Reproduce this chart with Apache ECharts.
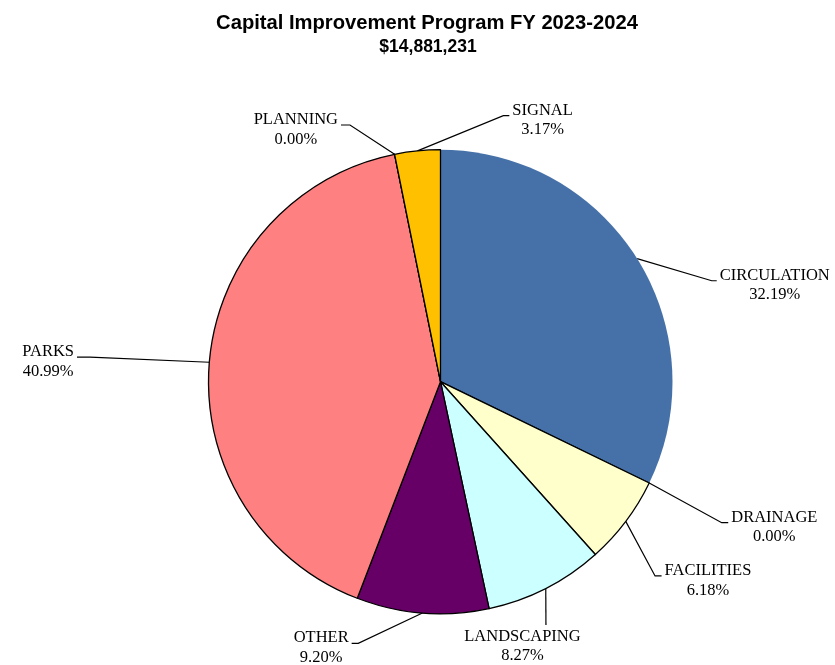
<!DOCTYPE html>
<html><head><meta charset="utf-8">
<script src="https://cdn.jsdelivr.net/npm/echarts@6/dist/echarts.min.js"></script>
<style>html,body{margin:0;padding:0;background:#fff}#c{width:835px;height:665px}</style>
</head><body><div id="c"></div>
<script>
// ---- data ----
const categories = ['CIRCULATION','DRAINAGE','FACILITIES','LANDSCAPING','OTHER','PARKS','PLANNING','SIGNAL'];
const percents = [32.19, 0.00, 6.18, 8.27, 9.20, 40.99, 0.00, 3.17];
const titleText = 'Capital Improvement Program FY 2023-2024';
const totalText = '$14,881,231';

// ---- styles / layout ----
const colors = ['#4571A8','#FFFFFF','#FFFFCC','#CCFFFF','#660066','#FF8080','#FFFFFF','#FFC000'];
// leader line: elbow offset from slice edge point, signed horizontal segment
const leader = [
  {ex:74.6, ey:22.2, h:5},
  {ex:72.5, ey:39.7, h:6.5},
  {ex:29.3, ey:54.6, h:6.5},
  {ex:0.2, ey:36.6, h:0, below:true, lx:-23.5, ly:21},
  {ex:-64.2, ey:30.3, h:-6.6},
  {ex:-119.3, ey:-5.2, h:-13},
  {ex:-44.6, ey:-29.3, h:-9},
  {ex:85.9, ey:-35.2, h:6}
];
const GAP = 3;

const chart = echarts.init(document.getElementById('c'), null, {renderer:'canvas'});
const data = categories.map((c, i) => ({
  name: c,
  value: percents[i],
  itemStyle: i === 0 ? {color: colors[i], borderWidth: 0} : {color: colors[i]}
}));

chart.setOption({
  animation: false,
  backgroundColor: '#fff',
  title: [
    {text: titleText, left: 422, top: 8, textAlign: 'center',
     textStyle: {fontFamily: 'Liberation Sans', fontWeight: 'bold', fontSize: 20.2, color: '#000'}},
    {text: totalText, left: 423, top: 33, textAlign: 'center',
     textStyle: {fontFamily: 'Liberation Sans', fontWeight: 'bold', fontSize: 17.5, color: '#000'}}
  ],
  series: [{
    type: 'pie',
    center: [440.5, 381.7],
    radius: 232,
    startAngle: 90,
    clockwise: true,
    avoidLabelOverlap: false,
    silent: true,
    emphasis: {disabled: true},
    itemStyle: {borderColor: '#000', borderWidth: 1.3},
    label: {
      show: true,
      position: 'outside',
      formatter: p => p.name + '\n' + p.value.toFixed(2) + '%',
      fontFamily: 'Liberation Serif',
      fontSize: 16.5,
      lineHeight: 19.5,
      color: '#000',
      align: 'center'
    },
    labelLine: {show: true, length: 10, length2: 10, smooth: false,
      lineStyle: {color: '#000', width: 1.2}},
    labelLayout: function (params) {
      const L = leader[params.dataIndex];
      const p0 = params.labelLinePoints[0];
      const p1 = [p0[0] + L.ex, p0[1] + L.ey];
      const p2 = [p1[0] + L.h, p1[1]];
      const w = params.labelRect.width;
      let x, y;
      if (L.below) { x = p2[0] + L.lx; y = p2[1] + L.ly; }
      else { const s = L.h >= 0 ? 1 : -1; x = p2[0] + s * (GAP + w / 2); y = p2[1] + 4.5; }
      return {x: x, y: y, align: 'center', verticalAlign: 'middle', labelLinePoints: [p0, p1, p2]};
    },
    data: data
  }]
});
</script>
</body></html>
